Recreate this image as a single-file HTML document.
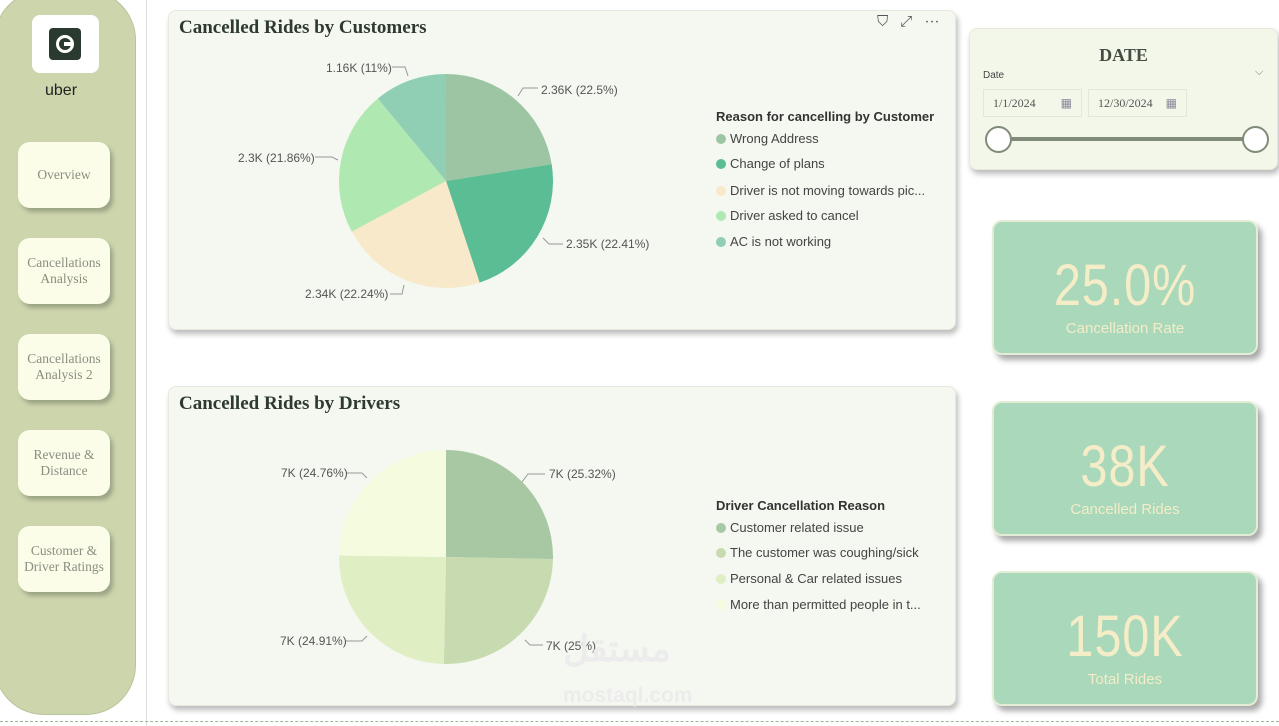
<!DOCTYPE html>
<html><head><meta charset="utf-8"><style>
*{margin:0;padding:0;box-sizing:border-box}
body{width:1279px;height:726px;background:#fff;position:relative;overflow:hidden;font-family:"Liberation Sans",sans-serif}
.abs{position:absolute}
.side{left:-6px;top:-10px;width:142px;height:725px;background:#cdd5ad;border:1px solid #b8c49a;border-radius:50px}
.logo{left:32px;top:15px;width:67px;height:58px;background:#fff;border-radius:8px}
.nav{left:18px;width:92px;height:66px;background:#fbfde9;border-radius:12px;box-shadow:3px 4px 4px #9aa585;font-family:"Liberation Serif",serif;color:#8a8f80;font-size:13.5px;display:flex;align-items:center;justify-content:center;text-align:center;line-height:16px}
.card{background:#f4f8f0;border-radius:8px;box-shadow:2px 4px 6px #bbb;border:1px solid #e6eadc}
.title{font-family:"Liberation Serif",serif;font-weight:bold;font-size:19px;color:#2e3a2e}
.kpi{background:#a9d8ba;border-radius:10px;border:2px solid #e3ecd5;box-shadow:4px 5px 6px #aaa;text-align:center;color:#f5ecc8}
.kpi .v{font-size:58px;font-family:"Liberation Sans",sans-serif;letter-spacing:1px;line-height:60px;transform:scaleX(0.84)}
.kpi .l{font-size:15px;margin-top:4px}
.lg{font-size:13px;color:#444}
.dot{display:inline-block;width:10px;height:10px;border-radius:50%;margin-right:4px;vertical-align:-1px}
</style></head><body>
<div class="abs" style="left:146px;top:0;width:1px;height:726px;background:#ddd"></div>
<div class="abs" style="left:0;top:721px;width:1279px;height:0;border-top:1px dashed #9bb59b"></div>
<div class="abs side"></div>
<div class="abs logo"><div class="abs" style="left:17px;top:13px;width:32px;height:32px;background:#2a3a2e;border-radius:4px"><div class="abs" style="left:7px;top:7px;width:18px;height:18px;border:3px solid #fff;border-radius:50%"></div><div class="abs" style="left:15px;top:14px;width:7px;height:4px;background:#fff"></div></div></div>
<div class="abs" style="left:45px;top:82px;font-size:16px;color:#222">uber</div>
<div class="abs nav" style="top:142px">Overview</div>
<div class="abs nav" style="top:238px">Cancellations<br>Analysis</div>
<div class="abs nav" style="top:334px">Cancellations<br>Analysis 2</div>
<div class="abs nav" style="top:430px">Revenue &amp;<br>Distance</div>
<div class="abs nav" style="top:526px">Customer &amp;<br>Driver Ratings</div>

<div class="abs card" style="left:168px;top:10px;width:788px;height:320px"></div>
<div class="abs title" style="left:179px;top:17px">Cancelled Rides by Customers</div>
<div class="abs" style="left:877px;top:13px;font-size:15px;color:#555;letter-spacing:12px">⛉⤢⋯</div>
<div class="abs card" style="left:168px;top:386px;width:788px;height:320px"></div>
<div class="abs title" style="left:179px;top:393px">Cancelled Rides by Drivers</div>

<svg class="abs" style="left:0;top:0" width="960" height="726" font-family="Liberation Sans" font-size="12" fill="#555">
<g id="p1"></g><g id="p2"></g>
<g stroke="#999" fill="none"><path d="M392 67H405L408 76"/><path d="M518 96L523 88H538"/><path d="M315 157H332L338 160"/><path d="M543 238L549 244H563"/><path d="M404 285L402 294H390"/>
<path d="M347 473H362L367 478"/><path d="M522 482L528 474H545"/><path d="M525 640L530 645H543"/><path d="M346 641H362L367 636"/></g>
<text x="326" y="72">1.16K (11%)</text><text x="541" y="94">2.36K (22.5%)</text><text x="238" y="162">2.3K (21.86%)</text><text x="566" y="248">2.35K (22.41%)</text><text x="305" y="298">2.34K (22.24%)</text>
<text x="281" y="477">7K (24.76%)</text><text x="549" y="478">7K (25.32%)</text><text x="546" y="650">7K (25%)</text><text x="280" y="645">7K (24.91%)</text>
</svg>
<div class="abs lg" style="left:716px;top:104px;line-height:25.6px">
<div style="font-weight:bold;color:#333">Reason for cancelling by Customer</div>
<div style="margin-top:-4px"><span class="dot" style="background:#9dc5a3"></span>Wrong Address</div>
<div><span class="dot" style="background:#5bbd94"></span>Change of plans</div>
<div style="margin-top:1px"><span class="dot" style="background:#f7e9c9"></span>Driver is not moving towards pic...</div>
<div><span class="dot" style="background:#b0e8b2"></span>Driver asked to cancel</div>
<div><span class="dot" style="background:#90cfb3"></span>AC is not working</div></div>
<div class="abs lg" style="left:716px;top:493px;line-height:25.6px">
<div style="font-weight:bold;color:#333">Driver Cancellation Reason</div>
<div style="margin-top:-4px"><span class="dot" style="background:#a8c8a4"></span>Customer related issue</div>
<div><span class="dot" style="background:#c8dbb0"></span>The customer was coughing/sick</div>
<div><span class="dot" style="background:#e0eec4"></span>Personal &amp; Car related issues</div>
<div style="margin-top:1px"><span class="dot" style="background:#f5fbde"></span>More than permitted people in t...</div></div>
<div class="abs" style="left:563px;top:628px;font-size:36px;font-weight:bold;color:#ececec">مستقل</div>
<div class="abs" style="left:563px;top:684px;font-size:21px;font-weight:bold;color:#ececec">mostaql.com</div>

<div class="abs card" style="left:969px;top:28px;width:309px;height:142px;background:#f3f7ea"></div>
<div class="abs" style="left:969px;top:45px;width:309px;text-align:center;font-family:'Liberation Serif',serif;font-weight:bold;font-size:18px;color:#444d44">DATE</div>
<div class="abs" style="left:983px;top:70px;font-size:10px;color:#444">Date</div>
<div class="abs" style="left:1255px;top:66px;font-size:11px;color:#777">⌵</div>
<div class="abs" style="left:983px;top:89px;width:99px;height:28px;border:1px solid #e3e6dc;font-family:'Liberation Serif',serif;font-size:12px;color:#555;padding:6px 9px">1/1/2024<span style="float:right;color:#889">▦</span></div>
<div class="abs" style="left:1088px;top:89px;width:99px;height:28px;border:1px solid #e3e6dc;font-family:'Liberation Serif',serif;font-size:12px;color:#555;padding:6px 9px">12/30/2024<span style="float:right;color:#889">▦</span></div>
<div class="abs" style="left:998px;top:137px;width:258px;height:4px;background:#808b7a"></div>
<div class="abs" style="left:985px;top:126px;width:27px;height:27px;border-radius:50%;background:#fff;border:2px solid #808b7a"></div>
<div class="abs" style="left:1242px;top:126px;width:27px;height:27px;border-radius:50%;background:#fff;border:2px solid #808b7a"></div>

<div class="abs kpi" style="left:992px;top:220px;width:266px;height:135px"><div class="v" style="margin-top:34px">25.0%</div><div class="l">Cancellation Rate</div></div>
<div class="abs kpi" style="left:992px;top:401px;width:266px;height:135px"><div class="v" style="margin-top:34px">38K</div><div class="l">Cancelled Rides</div></div>
<div class="abs kpi" style="left:992px;top:571px;width:266px;height:135px"><div class="v" style="margin-top:34px">150K</div><div class="l">Total Rides</div></div>
<script>
function pie(id,cx,cy,r,vals,cols){var a=-Math.PI/2,s='';vals.forEach(function(v,i){var b=a+v/100*2*Math.PI;var x1=cx+r*Math.cos(a),y1=cy+r*Math.sin(a),x2=cx+r*Math.cos(b),y2=cy+r*Math.sin(b);s+='<path d="M'+cx+' '+cy+'L'+x1+' '+y1+'A'+r+' '+r+' 0 '+((b-a)>Math.PI?1:0)+' 1 '+x2+' '+y2+'Z" fill="'+cols[i]+'"/>';a=b;});document.getElementById(id).innerHTML=s;}
pie('p1',446,181,107,[22.5,22.41,22.24,21.86,11],['#9dc5a3','#5bbd94','#f7e9c9','#b0e8b2','#90cfb3']);
pie('p2',446,557,107,[25.32,25,24.91,24.76],['#a8c8a4','#c8dbb0','#e0eec4','#f5fbde']);
</script>
</body></html>
